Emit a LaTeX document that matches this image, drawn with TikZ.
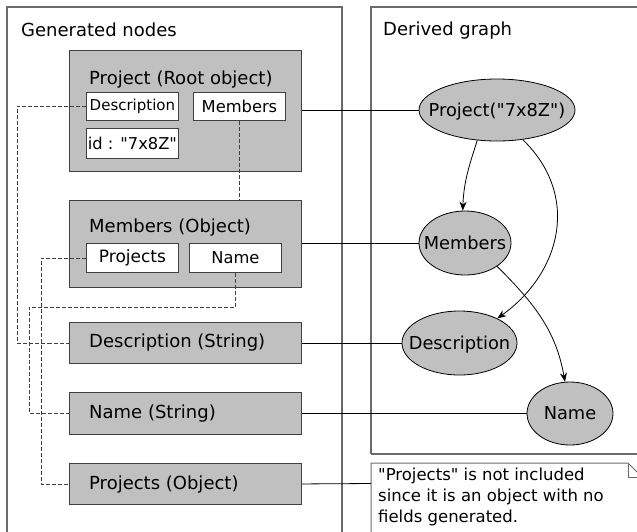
\documentclass[tikz,border=0pt]{standalone}
\usepackage{fontspec}
\setmainfont{DejaVu Sans}
\usetikzlibrary{shapes.geometric,arrows.meta}
\definecolor{boxfill}{HTML}{C0C0C0}
\definecolor{boxedge}{HTML}{404040}
\definecolor{panelgray}{HTML}{6A6A6A}
\definecolor{dashgray}{HTML}{404040}
\newcommand\dq{\XeTeXglyph\XeTeXcharglyph"22\relax}
\newcommand\ctext[1]{\smash{\makebox[0pt]{\raisebox{-0.36em}{#1}}}}
\begin{document}
\begin{tikzpicture}[x=1pt,y=-1pt,
  font=\fontsize{18}{21}\selectfont,
  panel/.style={draw=panelgray, line width=1.2pt},
  objbox/.style={draw=boxedge, fill=boxfill, line width=0.9pt, inner sep=0pt, anchor=north west, minimum width=232pt},
  field/.style={draw=boxedge, fill=white, line width=0.9pt, inner sep=0pt, anchor=north west, minimum width=92pt, minimum height=28pt, font=\fontsize{16.3}{19}\selectfont},
  title/.style={anchor=base west, inner sep=0pt},
  ell/.style={ellipse, draw=black, fill=boxfill, line width=0.8pt, inner sep=0pt, font=\fontsize{17.8}{21}\selectfont},
  link/.style={draw=black, line width=0.8pt},
  dashlink/.style={draw=dashgray, line width=0.8pt, dash pattern=on 4pt off 2pt},
  arr/.style={draw=black, line width=0.8pt, -{Stealth[length=9pt,width=7pt]}}
]
\useasboundingbox (0,0) rectangle (637,531);
\begin{scope}
\clip (0,0) rectangle (637,531);
% panels
\draw[panel] (7,560) -- (7,7) -- (342,7) -- (342,560);
\draw[panel] (371,454) -- (371,7) -- (660,7);
\draw[panel] (660,454) -- (371,454);
\node[title] (tgen) at (21,36.5) {Generated nodes};
\node[title] (tder) at (383,35) {Derived graph};

% generated nodes
\node[objbox, minimum height=121pt] (bproj) at (69,50) {};
\node[title] (tproj) at (89,84) {Project (Root object)};
\node[field, font=\fontsize{15}{18}\selectfont] (fdesc) at (86,92) {Description};
\node[field] (fmem) at (193,92) {Members};
\node[field, minimum height=30pt] (fid) at (86,128) {id : \dq 7x8Z\dq};

\node[objbox, minimum height=87pt] (bmem) at (69,200) {};
\node[title] (tmem) at (89,232) {Members (Object)};
\node[field, minimum height=29pt, font=\fontsize{17}{19}\selectfont] (fproj) at (86,243) {Projects};
\node[field, minimum height=29pt] (fname) at (189,243) {Name};

\node[objbox, minimum height=41pt] (bdesc) at (69,322) {};
\node[title] (tdesc) at (89,347) {Description (String)};
\node[objbox, minimum height=42pt] (bname) at (69,392) {};
\node[title] (tname) at (89,418) {Name (String)};
\node[objbox, minimum height=41pt] (bpobj) at (69,463) {};
\node[title] (tpobj) at (89,489) {Projects (Object)};

% dashed links
\draw[dashlink] (fdesc.west) -- ++(-69,0) |- (bdesc.west);
\draw[dashlink] (fmem.south) -- (fmem.south |- bmem.north);
\draw[dashlink] (fproj.west) -- ++(-45,0) |- (bpobj.west);
\draw[dashlink] (fname.south) |- (29,307) |- (bname.west);

% derived graph
\node[ell, minimum width=156pt, minimum height=62pt] (eproj) at (497,110) {\ctext{Project(\dq 7x8Z\dq)}};
\node[ell, minimum width=92pt, minimum height=64pt] (emem) at (465,243) {\ctext{Members}};
\node[ell, minimum width=115pt, minimum height=64pt] (edesc) at (459.5,343) {\ctext{Description}};
\node[ell, minimum width=86pt, minimum height=63pt] (ename) at (570,413.5) {\ctext{Name}};

\draw[arr] (eproj.237) to[out=-108,in=88] (emem.94);
\draw[arr] (eproj.311) .. controls (580,195) and (562,272) .. (edesc.33);
\draw[arr] (emem.-36) to[out=-45,in=100] (ename.99);

% note
\draw[panel, line width=1pt] (371,560) -- (371,463) -- (628,463) -- (645,480);
\draw[panel, line width=1pt] (628,463) -- (628,477) -- (645,477);
\coordinate (notel) at (371,483.5);
\node[anchor=north west, inner sep=0pt, align=left, font=\fontsize{16.5}{21}\selectfont] (note) at (378,468) {\dq Projects\dq{} is not included\\since it is an object with no\\fields generated.};

% solid links
\draw[link] (bproj.east |- eproj.west) -- (eproj.west);
\draw[link] (bmem.east |- emem.west) -- (emem.west);
\draw[link] (bdesc.east |- edesc.west) -- (edesc.west);
\draw[link] (bname.east |- ename.west) -- (ename.west);
\draw[link] (bpobj.east) -- (notel);
\end{scope}
\end{tikzpicture}
\end{document}
